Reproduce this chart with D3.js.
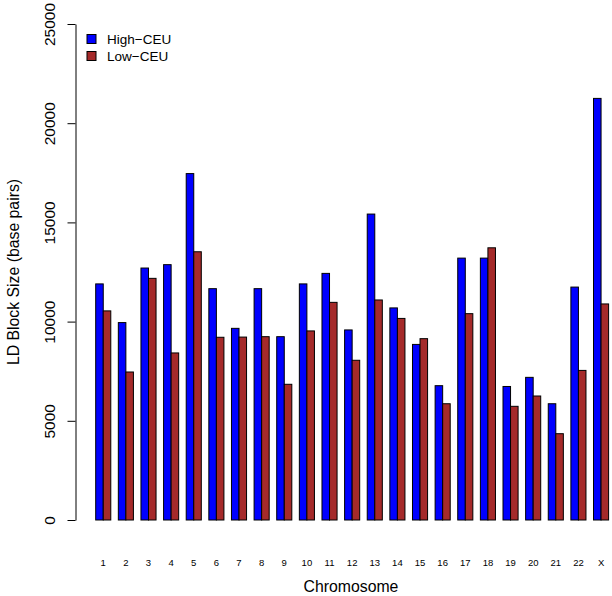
<!DOCTYPE html>
<html>
<head>
<meta charset="utf-8">
<script src="https://cdn.jsdelivr.net/npm/d3@7"></script>
<style>
  body { margin: 0; background: #fff; }
  text { font-family: "Liberation Sans", Arial, Helvetica, sans-serif; fill: #000; }
</style>
</head>
<body>
<svg id="chart" width="612" height="596"></svg>
<script>
const chromosomes = ["1","2","3","4","5","6","7","8","9","10","11","12","13","14","15","16","17","18","19","20","21","22","X"];
const highCEU = [11900, 9950, 12700, 12870, 17460, 11660, 9660, 11660, 9240, 11900, 12430, 9580, 15420, 10690, 8850, 6770, 13200, 13200, 6730, 7190, 5860, 11740, 21250];
const lowCEU  = [10540, 7460, 12180, 8420, 13520, 9210, 9220, 9240, 6840, 9530, 10970, 8050, 11090, 10160, 9140, 5860, 10400, 13720, 5730, 6250, 4350, 7540, 10890];
const seriesNames = ["High\u2212CEU", "Low\u2212CEU"];
const seriesColors = ["#0000FF", "#A52A2A"];
const yTicks = [0, 5000, 10000, 15000, 20000, 25000];

const svg = d3.select("#chart");

const x0 = d3.scaleBand()
  .domain(chromosomes)
  .range([95.7, 608.6])
  .paddingInner(1/3)
  .paddingOuter(0);

const x1 = d3.scaleBand()
  .domain([0, 1])
  .range([0, x0.bandwidth()]);

const y = d3.scaleLinear().domain([0, 25000]).range([520, 24]);

const data = chromosomes.map((c, i) => ({ c, vals: [highCEU[i], lowCEU[i]] }));

const groups = svg.append("g").selectAll("g")
  .data(data).join("g")
  .attr("transform", d => `translate(${x0(d.c)},0)`);

groups.selectAll("rect")
  .data(d => d.vals.map((v, k) => ({ v, k })))
  .join("rect")
  .attr("x", d => x1(d.k))
  .attr("y", d => y(d.v))
  .attr("width", x1.bandwidth())
  .attr("height", d => y(0) - y(d.v))
  .attr("fill", d => seriesColors[d.k])
  .attr("stroke", "#000")
  .attr("stroke-width", 1);

// Y axis
const yAxis = svg.append("g")
  .attr("transform", "translate(75.5,0)")
  .call(d3.axisLeft(y).tickValues(yTicks).tickSize(8).tickSizeOuter(0).tickFormat(d3.format("d")));
yAxis.select(".domain").attr("stroke", "#000");
yAxis.selectAll(".tick line").attr("stroke", "#000");
yAxis.selectAll(".tick text")
  .attr("x", null).attr("dy", null)
  .attr("text-anchor", "middle")
  .attr("transform", "translate(-20.5,0) rotate(-90)")
  .style("font-size", "15.5px")
  .style("font-family", "'Liberation Sans', Arial, sans-serif");

// X tick labels (no axis line)
svg.append("g").selectAll("text")
  .data(chromosomes).join("text")
  .attr("x", d => x0(d) + x0.bandwidth() / 2)
  .attr("y", 566)
  .attr("text-anchor", "middle")
  .style("font-size", "9.5px")
  .text(d => d);

// Axis titles
svg.append("text")
  .attr("x", 351).attr("y", 591.5)
  .attr("text-anchor", "middle")
  .style("font-size", "15.8px")
  .text("Chromosome");

svg.append("text")
  .attr("transform", "translate(18.5,272) rotate(-90)")
  .attr("text-anchor", "middle")
  .style("font-size", "15.8px")
  .text("LD Block Size (base pairs)");

// Legend
const legend = svg.append("g").selectAll("g")
  .data(seriesNames).join("g")
  .attr("transform", (d, i) => `translate(87,${34.5 + i * 17})`);
legend.append("rect")
  .attr("width", 9).attr("height", 9)
  .attr("fill", (d, i) => seriesColors[i])
  .attr("stroke", "#000").attr("stroke-width", 1);
legend.append("text")
  .attr("x", 20).attr("y", 9.5)
  .style("font-size", "13.5px")
  .text(d => d);
</script>
</body>
</html>
